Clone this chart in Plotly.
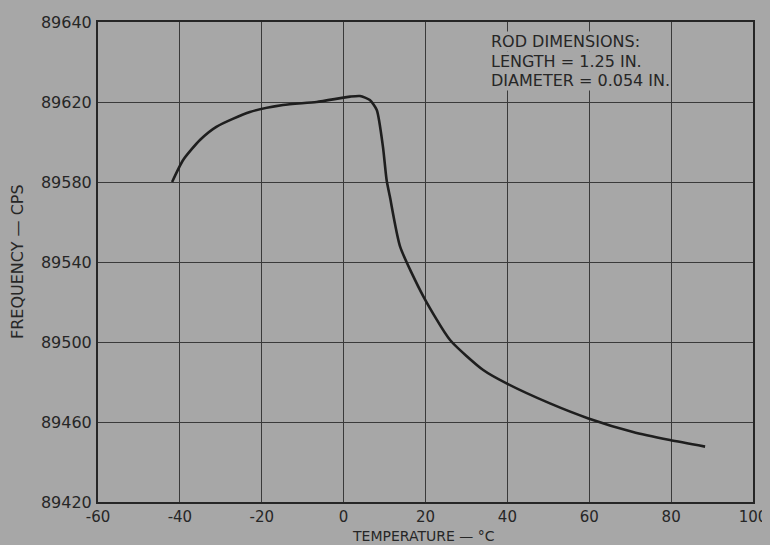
import plotly.graph_objects as go

# Curve (temperature in °C, frequency in cps)
temperature = [-41.9, -39.2, -35.1, -31.0, -22.9, -14.8, -6.6, 1.6, 4.0, 6.4, 8.1, 9.6,
               10.5, 11.3, 13.8, 19.5, 26.0, 34.1, 39.8, 50.4, 59.8, 70.7, 79.7, 88.3]
frequency = [89580, 89591, 89601, 89607.7, 89615, 89618.5, 89620, 89622.7, 89623, 89621, 89616, 89597.7,
             89581, 89572.7, 89547.7, 89522.7, 89501, 89486, 89479.3, 89469.3, 89461.8, 89455, 89451, 89447.7]

x_ticks = [-60, -40, -20, 0, 20, 40, 60, 80, 100]
x_labels = ["-60", "-40", "-20", "0", "20", "40", "60", "80", "100"]
y_ticks = [89420, 89460, 89500, 89540, 89580, 89620, 89660]
y_labels = ["89420", "89460", "89500", "89540", "89580", "89620", "89640"]

x_title = "TEMPERATURE — °C"
y_title = "FREQUENCY — CPS"
note_lines = ["ROD DIMENSIONS:", "LENGTH = 1.25 IN.", "DIAMETER = 0.054 IN."]

ink = "#262626"
paper = "#a7a7a7"
font_family = "DejaVu Sans, Arial, sans-serif"

fig = go.Figure()
fig.add_trace(go.Scatter(
    x=temperature, y=frequency, mode="lines",
    line=dict(color="#1e1e1e", width=2.6, shape="spline", smoothing=0.6),
    hoverinfo="skip", showlegend=False,
))

axis_common = dict(
    showline=True, linecolor=ink, linewidth=2, mirror=True,
    showgrid=True, gridcolor="#3a3a3a", gridwidth=1.3,
    zeroline=False, ticks="", automargin=False,
    tickfont=dict(size=16, color=ink, family=font_family),
)

fig.update_xaxes(range=[-60, 100], tickvals=x_ticks, ticktext=x_labels, ticklabelstandoff=0,
                 tickfont=dict(size=15, color=ink, family=font_family),
                 **{k: v for k, v in axis_common.items() if k != "tickfont"})
fig.update_yaxes(range=[89420, 89660], tickvals=y_ticks, ticktext=y_labels, ticklabelstandoff=1,
                 **axis_common)

fig.add_annotation(
    x=0.5, y=-0.071, xref="paper", yref="paper", xanchor="center", yanchor="middle",
    xshift=-2, text=x_title, showarrow=False,
    font=dict(size=14, color=ink, family=font_family),
)
fig.add_annotation(
    x=0, y=0.5, xref="paper", yref="paper", xanchor="center", yanchor="middle",
    xshift=-81, text=y_title, textangle=-90, showarrow=False,
    font=dict(size=16, color=ink, family=font_family),
)
for line_text, y_pos in zip(note_lines, [0.959, 0.918, 0.878]):
    fig.add_annotation(
        x=0.5985, y=y_pos, xref="paper", yref="paper", xanchor="left", yanchor="middle",
        text=line_text, align="left", showarrow=False,
        font=dict(size=16, color=ink, family=font_family),
        bgcolor=paper, borderpad=0,
    )

# The page body adds an 8px offset, so the figure is sized to fill the 770x545 window.
fig.update_layout(
    width=762, height=537,
    margin=dict(l=90, r=17, t=14, b=43, autoexpand=False),
    paper_bgcolor=paper, plot_bgcolor=paper,
    font=dict(family=font_family, color=ink),
)

fig.write_html("out.html", post_script="document.body.style.backgroundColor='%s';" % paper)
